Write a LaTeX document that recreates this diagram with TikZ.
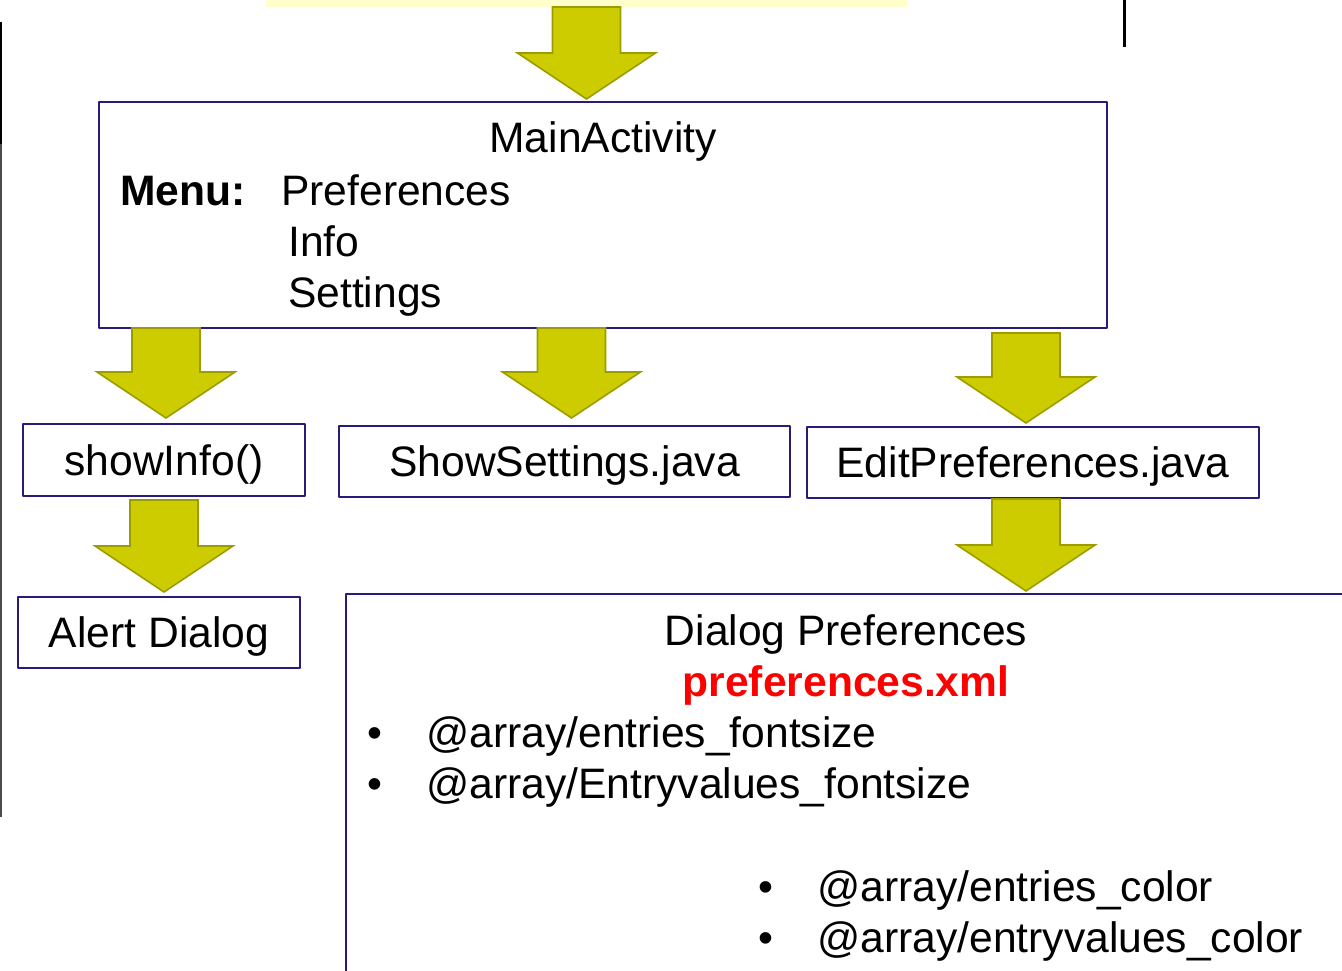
\documentclass[tikz,border=0pt]{standalone}
\usepackage{fontspec}
\setmainfont{Liberation Sans}
\usetikzlibrary{calc,positioning}
\definecolor{BoxBlue}{HTML}{2A1A7C}
\definecolor{ArrowFill}{HTML}{CCCC00}
\definecolor{ArrowEdge}{HTML}{9C9C00}
\definecolor{TopYellow}{HTML}{FFFFCC}
\definecolor{XmlRed}{HTML}{FF0000}
\tikzset{
  box/.style={draw=BoxBlue,line width=1.8pt,fill=white,inner sep=0pt,outer sep=0pt,text height=30.5,text depth=0,font=\fontsize{42.6}{52}\selectfont},
  txt/.style={inner sep=0pt,anchor=base west,font=\fontsize{42.6}{52}\selectfont},
  blockarrow/.style={fill=ArrowFill,draw=ArrowEdge,line width=1.6pt,line join=miter}
}
\newcommand\bigarrow[2]{% #1 top of shaft, #2 tip
  \draw[blockarrow] ($(#1)+(-34,0)$) -- ($(#2)+(-34,-46)$) -- ($(#2)+(-69,-46)$) -- (#2)
    -- ($(#2)+(69,-46)$) -- ($(#2)+(34,-46)$) -- ($(#1)+(34,0)$) -- cycle;}

\begin{document}
\begin{tikzpicture}[x=1pt,y=-1pt,line cap=round,line join=round]
  \clip (0,0) rectangle (1342,971);
  \draw[line width=2.5pt,line cap=butt] (1,22)--(1,144);
  \draw[black!70,line width=1.2pt,line cap=butt] (1,144)--(1,817);
  \draw[line width=3pt,line cap=butt] (1124,0)--(1124,47);
  \node[fill=TopYellow,minimum width=641,minimum height=7,inner sep=0pt,outer sep=0pt,anchor=north west] (src) at (266,0) {};
  \node[box,minimum width=1008,minimum height=226,anchor=north west] (main) at (99,102) {};
  \node[box,minimum width=282,minimum height=72,anchor=north west] (info) at (23,424) {showInfo()};
  \node[box,minimum width=451,minimum height=71,anchor=north west] (settings) at (339,426) {ShowSettings.java};
  \node[box,minimum width=452,minimum height=71,anchor=north west] (edit) at (807,427) {EditPreferences.java};
  \node[box,minimum width=282,minimum height=71,anchor=north west] (alert) at (18,597) {Alert Dialog};
  \node[box,minimum width=1100,minimum height=500,anchor=north west] (dialog) at (346,594) {};
  % main activity text
  \node[txt,anchor=base] (title) at (603,153) {MainActivity};
  \node[txt] (menu) at (120,205) {\bfseries Menu:};\node[txt] (prefs) at (281,205) {Preferences};
  \node[txt] (infoitem) at (288,256) {Info};\node[txt] (setitem) at (288,307) {Settings};
  % dialog text
  \node[txt,anchor=base] (dtitle) at (846,645) {Dialog Preferences};
  \node[txt,anchor=base,text=XmlRed] (xml) at (846,696) {\bfseries preferences.xml};
  \foreach \x/\y/\t [count=\i] in {367/747/{@array/entries\_fontsize},367/798/{@array/Entryvalues\_fontsize},
      758/901/{@array/entries\_color},758/952/{@array/entryvalues\_color}}{
    \node[txt] (b\i) at (\x,\y) {•};\node[txt] (e\i) at (\x+59,\y) {\t};}
  % arrows
  \coordinate (s0) at (src.south);\coordinate (t0) at ($(src.south |- main.north)+(0,-3)$);
  \coordinate (s1) at ($(info.north |- main.south)+(2,0)$);\coordinate (t1) at ($(info.north)+(2,-6)$);
  \coordinate (s2) at ($(settings.north |- main.south)+(7,0)$);\coordinate (t2) at ($(settings.north)+(7,-8)$);
  \coordinate (s3) at ($(edit.north |- main.south)+(-7,5)$);\coordinate (t3) at ($(edit.north)+(-7,-4)$);
  \coordinate (s4) at ($(info.south)+(0,4)$);\coordinate (t4) at ($(info.south |- alert.north)+(0,-5)$);
  \coordinate (s5) at ($(edit.south)+(-7,1)$);\coordinate (t5) at ($(edit.south |- dialog.north)+(-7,-3)$);
  \foreach \i in {0,...,5}{\bigarrow{s\i}{t\i}}
\end{tikzpicture}
\end{document}
